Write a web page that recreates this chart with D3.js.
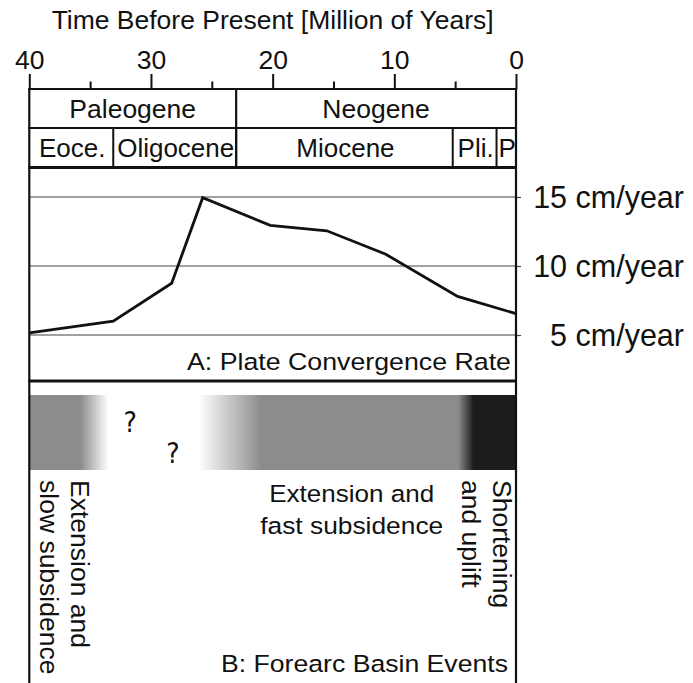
<!DOCTYPE html>
<html><head><meta charset="utf-8">
<script src="https://cdn.jsdelivr.net/npm/d3@7"></script>
<style>
body{margin:0;background:#fff;}
svg{display:block;}
text{font-family:"Liberation Sans",Arial,Helvetica,sans-serif;fill:#111;}
</style></head>
<body>
<svg id="c" width="693" height="683"></svg>
<script>
// ---- data ----
const axisTitle = "Time Before Present [Million of Years]";
const majorTicks = [40, 30, 20, 10, 0];
const minorTicks = [35, 25, 15, 5];
const periods = [
  {name: "Paleogene", start: 40, end: 23.0},
  {name: "Neogene", start: 23.0, end: 0}
];
const epochs = [
  {name: "Eoce.", start: 40, end: 33.1},
  {name: "Oligocene", start: 33.1, end: 23.0},
  {name: "Miocene", start: 23.0, end: 5.2},
  {name: "Pli.", start: 5.2, end: 1.6},
  {name: "P", start: 1.6, end: 0}
];
const convTime = [40, 33.1, 28.3, 25.75, 20.2, 15.55, 10.7, 4.8, 0];
const convRate = [5.15, 6.0, 8.75, 14.95, 12.95, 12.55, 10.85, 7.8, 6.55];
const rateTicks = [5, 10, 15];
const rateUnit = " cm/year";
const panelA = "A: Plate Convergence Rate";
const panelB = "B: Forearc Basin Events";
// basin event band: time of each colour stop and event state at it
const bandTime  = [40, 35.8, 33.5, 26.1, 20.9, 4.75, 3.5, 0];
const bandState = ["ext", "ext", "none", "none", "ext", "ext", "short", "short"];
const unknownMarks = [{t: 31.7, row: 0}, {t: 28.2, row: 1}];
const eventLabels = [
  {lines: ["Extension and", "slow subsidence"], t: 40, rotated: true},
  {lines: ["Extension and", "fast subsidence"], t: 13.5, rotated: false},
  {lines: ["Shortening", "and uplift"], t: 0, rotated: true}
];

// ---- layout ----
const svg = d3.select("#c");
const L = 29.3, R = 516;
const x = d3.scaleLinear().domain([40, 0]).range([L, R]);
const yA = d3.scaleLinear().domain([5, 15]).range([335, 197]);
const topY = 89, midY = 128, epY = 167.5, sepY = 381, bottomY = 683;
const shade = {ext: "#8c8c8c", none: "#ffffff", short: "#1c1c1c"};

// title
svg.append("text").attr("x", (L + R) / 2).attr("y", 29)
  .attr("text-anchor", "middle").style("font-size", "25.5px")
  .attr("textLength", 442).attr("lengthAdjust", "spacingAndGlyphs")
  .text(axisTitle);

// top axis
const gMaj = svg.append("g").attr("transform", `translate(0,${topY})`)
  .call(d3.axisTop(x).tickValues(majorTicks).tickSize(15).tickPadding(5).tickFormat(d3.format("d")));
const gMin = svg.append("g").attr("transform", `translate(0,${topY})`)
  .call(d3.axisTop(x).tickValues(minorTicks).tickSize(7.5).tickFormat(""));
[gMaj, gMin].forEach(g => {
  g.select(".domain").remove();
  g.selectAll(".tick line").attr("stroke", "#111").attr("stroke-width", 2);
});
gMaj.selectAll(".tick text").style("font-size", "26.5px").attr("fill", "#111")
  .attr("font-family", "Liberation Sans, Arial, sans-serif");

// band gradient
const defs = svg.append("defs");
const grad = defs.append("linearGradient").attr("id", "band")
  .attr("gradientUnits", "userSpaceOnUse")
  .attr("x1", x(40)).attr("x2", x(0)).attr("y1", 0).attr("y2", 0);
bandTime.forEach((t, i) => {
  grad.append("stop").attr("offset", (x(t) - x(40)) / (x(0) - x(40)))
    .attr("stop-color", shade[bandState[i]]);
});
svg.append("rect").attr("x", x(40)).attr("y", 395).attr("width", x(0) - x(40)).attr("height", 75)
  .attr("fill", "url(#band)");

// unknown marks
unknownMarks.forEach(m => {
  svg.append("text").attr("x", x(m.t)).attr("y", m.row === 0 ? 432 : 463)
    .attr("text-anchor", "middle").style("font-family", "'DejaVu Sans Condensed', 'DejaVu Sans', sans-serif")
    .style("font-size", "28px").text("?");
});

// gridlines panel A
svg.append("g").selectAll("line").data(rateTicks).join("line")
  .attr("x1", L).attr("x2", R).attr("y1", d => yA(d)).attr("y2", d => yA(d))
  .attr("stroke", "#444").attr("stroke-width", 1.2);

// right axis
const gR = svg.append("g").attr("transform", `translate(${R},0)`)
  .call(d3.axisRight(yA).tickValues(rateTicks).tickSize(5).tickFormat(d => d + rateUnit));
gR.select(".domain").remove();
gR.selectAll(".tick line").attr("stroke", "#444").attr("stroke-width", 1.2);
gR.selectAll(".tick text").attr("x", 168).attr("dy", "0.36em").attr("text-anchor", "end")
  .style("font-size", "30.5px").attr("fill", "#111")
  .attr("font-family", "Liberation Sans, Arial, sans-serif");

// convergence line
const pts = convTime.map((t, i) => [t, convRate[i]]);
svg.append("path").datum(pts)
  .attr("d", d3.line().x(d => x(d[0])).y(d => yA(d[1])))
  .attr("fill", "none").attr("stroke", "#111").attr("stroke-width", 2.8)
  .attr("stroke-linejoin", "miter");

// period / epoch boxes
svg.append("g").selectAll("line").data(periods.slice(1)).join("line")
  .attr("x1", d => x(d.start)).attr("x2", d => x(d.start)).attr("y1", topY).attr("y2", epY)
  .attr("stroke", "#111").attr("stroke-width", 2.2);
svg.append("g").selectAll("line").data(epochs.slice(1)).join("line")
  .attr("x1", d => x(d.start)).attr("x2", d => x(d.start)).attr("y1", midY).attr("y2", epY)
  .attr("stroke", "#111").attr("stroke-width", 2);
svg.append("g").selectAll("text").data(periods).join("text")
  .attr("x", d => (x(d.start) + x(d.end)) / 2).attr("y", 117.5)
  .attr("text-anchor", "middle").style("font-size", "26.5px").text(d => d.name);
svg.append("g").selectAll("text").data(epochs).join("text")
  .attr("x", d => (x(d.start) + x(d.end)) / 2 + 1).attr("y", 157)
  .attr("text-anchor", "middle").style("font-size", "26px").text(d => d.name);

// horizontal rules
[[topY, 2.2], [midY, 2.2], [epY, 3], [sepY, 3]].forEach(([yy, w]) => {
  svg.append("line").attr("x1", L - 1).attr("x2", R + 1).attr("y1", yy).attr("y2", yy)
    .attr("stroke", "#111").attr("stroke-width", w);
});
// side borders
[L, R].forEach(xx => {
  svg.append("line").attr("x1", xx).attr("x2", xx).attr("y1", topY - 1).attr("y2", bottomY)
    .attr("stroke", "#111").attr("stroke-width", 2.2);
});

// panel labels
svg.append("text").attr("x", 511).attr("y", 370).attr("text-anchor", "end")
  .style("font-size", "24.5px").attr("textLength", 324).attr("lengthAdjust", "spacingAndGlyphs")
  .text(panelA);
svg.append("text").attr("x", 508).attr("y", 672).attr("text-anchor", "end")
  .style("font-size", "24.5px").attr("textLength", 287).attr("lengthAdjust", "spacingAndGlyphs")
  .text(panelB);

// event labels
eventLabels.forEach(ev => {
  if (ev.rotated) {
    const base = ev.t === 40 ? x(ev.t) + 42 : x(ev.t) - 23;
    ev.lines.forEach((ln, i) => {
      const bx = base - i * 31.5;
      svg.append("text").attr("transform", `translate(${bx},480) rotate(90)`)
        .style("font-size", "26.5px").text(ln);
    });
  } else {
    ev.lines.forEach((ln, i) => {
      svg.append("text").attr("x", x(ev.t)).attr("y", 502 + i * 31.6)
        .attr("text-anchor", "middle").style("font-size", "24.5px")
        .attr("textLength", i === 0 ? 165 : 183).attr("lengthAdjust", "spacingAndGlyphs")
        .text(ln);
    });
  }
});
</script>
</body></html>
